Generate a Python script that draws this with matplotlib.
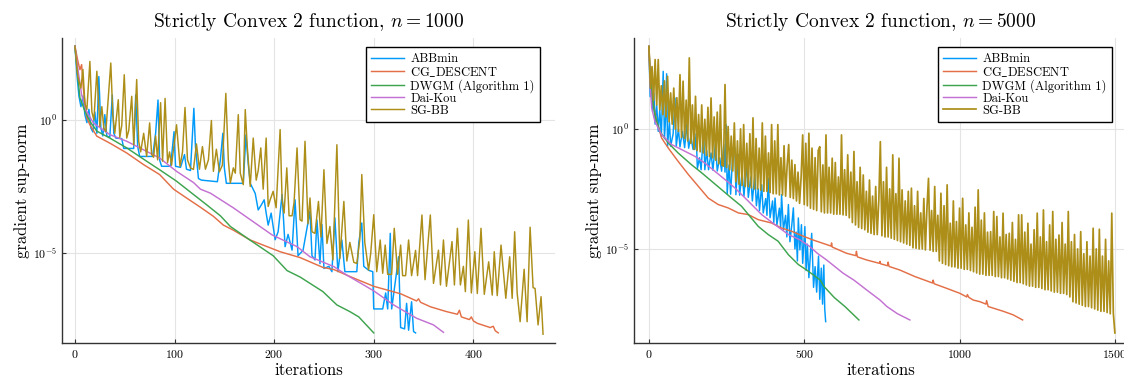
import numpy as np
import matplotlib
matplotlib.use("Agg")
import matplotlib.pyplot as plt
from matplotlib.ticker import FixedLocator, NullLocator

plt.rcParams['font.family'] = ['cmr10', 'DejaVu Serif']
plt.rcParams['mathtext.fontset'] = 'cm'
plt.rcParams['axes.formatter.use_mathtext'] = True

# Plots.jl default palette
c_abb = '#009AFA'
c_cg = '#E36F47'
c_dwgm = '#3EA44E'
c_dk = '#C371D2'
c_sg = '#AC8E18'

labels = ['ABBmin', r'CG$\_$DESCENT', 'DWGM (Algorithm 1)', 'Dai-Kou', 'SG-BB']

# ---------------- n = 1000 (iteration, log10 gradient sup-norm) ----------------
abb_1000 = [(0, 2.77), (2, 1.7), (4, 0.9), (6, 0.5), (8, 0.9), (10, 0.2), (12, -0.1), (14, 0.4),
            (16, -0.3), (18, -0.45), (20, 0.3), (22, -0.5), (24, 1.63), (26, -0.3), (28, -0.6),
            (30, 0.2), (32, -0.6), (35, -0.65), (37.5, 0.94), (39, -0.5), (41, -0.68), (47, -0.7),
            (49, -1.07), (59, -1.07), (61, 0.94), (63, -1.0), (65, -1.37), (78, -1.37), (81, -0.5),
            (83.4, 0.75), (85, -1.5), (87, -1.74), (96, -1.74), (99.5, -0.44), (101, -1.74),
            (106, -1.78), (110, -1.3), (112, -1.85), (116, -1.9), (119.4, 0.44), (121, -1.0),
            (124, -2.2), (127, -2.26), (143, -2.32), (146, -1.5), (148.5, -0.5), (150, -1.8),
            (152, -2.38), (169, -2.38), (171.7, -0.56), (174, -1.65), (176, -2.38), (181, -2.76),
            (184, -3.38), (187, -3.2), (190, -3.0), (192, -3.5), (194, -3.95), (197, -3.5),
            (201, -4.5), (204, -4.2), (208, -2.8), (211, -4.76), (214, -4.3), (218, -4.89),
            (221, -3.0), (224, -5.1), (229, -4.9), (236, -3.43), (238, -5.1), (241, -5.26),
            (243, -3.76), (246, -5.4), (248, -3.93), (250, -5.58), (255, -5.5), (258, -5.7),
            (261, -3.68), (264, -5.7), (268, -4.51), (271, -5.7), (283, -5.7), (285, -4.6),
            (288, -3.87), (290, -5.5), (295, -5.65), (299, -5.7), (300, -7.1), (309, -7.1),
            (312, -6.5), (314, -7.1), (316.6, -4.26), (318, -7.1), (325, -5.14), (327, -7.8),
            (331, -7.85), (333, -6.89), (335, -7.9), (338, -6.83), (340, -7.95), (342, -8.0)]

cg_1000 = [(0, 2.77), (3, 2.2), (5, 1.89), (6.7, 2.08), (8.4, 1.2), (11.7, 0.1), (15, -0.18),
           (22, -0.61), (35, -0.87), (52, -1.24), (69, -1.68), (85, -2.05), (99, -2.6),
           (112, -2.93), (126, -3.28), (139, -3.62), (149, -3.95), (159, -4.14), (176, -4.51),
           (193, -4.76), (206, -4.95), (226, -5.17), (249, -5.54), (260, -5.62), (276, -5.88),
           (300, -6.25), (327, -6.53), (343, -6.8), (345, -6.72), (347, -6.85), (357, -7.02),
           (373, -7.2), (384, -7.3), (386, -7.15), (388, -7.4), (396, -7.5), (398, -7.4),
           (400, -7.55), (404, -7.64), (417, -7.8), (420, -7.75), (422, -7.92), (425, -8.0)]

dwgm_1000 = [(0, 2.77), (1.7, 2.08), (5, 0.83), (10, 0.33), (15, -0.05), (22, -0.42), (35, -0.68),
             (52, -1.05), (72, -1.55), (85, -1.87), (102, -2.3), (119, -2.8), (132, -3.18),
             (146, -3.6), (156, -4.0), (176, -4.52), (199, -5.1), (213, -5.66), (226, -5.9),
             (249, -6.45), (263, -6.95), (276, -7.2), (285, -7.4), (300, -8.0)]

dk_1000 = [(0, 2.77), (3, 1.9), (6.7, 0.95), (11.7, 0.33), (18.4, -0.11), (35, -0.55), (52, -0.8),
           (72, -1.18), (85, -1.43), (102, -1.93), (119, -2.35), (126, -2.6), (136, -2.75),
           (159, -3.3), (198, -4.32), (223, -4.76), (236, -5.14), (260, -5.51), (273, -5.83),
           (300, -6.42), (320, -6.95), (343, -7.45), (360, -7.7), (370, -7.98)]

sg_1000 = [(0, 2.77), (3, 1.6), (6, 1.2), (8, 1.9), (10, 0.6), (12, 0.4), (15, 2.2), (17, 0.3),
           (19, 0.0), (22, 1.83), (25, -0.24), (27, 0.5), (29, -0.3), (31, -0.44), (33, 0.6),
           (36, 2.14), (38, 0.2), (40, -0.5), (43.5, 0.76), (45, -0.65), (47, -0.2), (49.5, 1.7),
           (52, -0.68), (54, -0.4), (57, 0.89), (59, -0.93), (62, 1.52), (64, -0.8), (66, -1.2),
           (69, -0.5), (72, -1.37), (75, -0.11), (77, -1.3), (79, -1.4), (81, -0.6), (83, -1.5),
           (86, 0.65), (88, -1.55), (90.5, 0.81), (93, -1.6), (95, -1.2), (97, -1.7), (102, -0.18),
           (105.5, -1.74), (108, -1.2), (110.5, 0.47), (113, -1.5), (116, -1.8), (119, -1.86),
           (122, -0.9), (125, -1.85), (128, -1.0), (131, -1.85), (134, -1.5), (137, -0.02),
           (139, -1.93), (142, -1.1), (145, -1.95), (148, -1.7), (151.5, 1.0), (154, -1.5),
           (156, -2.37), (159, -1.8), (161, -2.0), (164, 0.2), (166, -2.0), (169, -2.43),
           (171, 0.39), (173, -1.0), (176, -2.5), (179, -0.68), (182, -2.26), (184, -1.9),
           (186.6, -1.05), (189, -2.6), (192, -0.68), (194, -3.25), (196, -3.0), (199, -2.68),
           (202, -3.3), (206, -0.36), (208, -3.0), (210, -3.5), (212.7, -1.8), (215, -3.6),
           (218, -3.6), (220, -3.1), (223, -1.05), (226, -3.75), (228, -3.8), (231, -0.8),
           (234, -3.9), (236, -2.93), (238, -4.2), (241, -4.26), (244.5, -3.06), (247, -4.4),
           (250, -1.87), (253, -4.64), (256, -4.0), (259, -5.26), (263, -0.93), (266, -5.2),
           (270, -3.06), (273, -5.3), (276, -4.6), (280, -5.35), (283, -5.39), (286, -4.5),
           (288, -2.05), (291, -4.6), (294.8, -5.64), (297, -5.0), (300, -3.56), (303, -5.7),
           (306.5, -4.51), (309, -5.76), (311.5, -4.7), (314, -5.8), (318, -5.8), (320.6, -4.07),
           (324, -5.8), (327, -4.7), (329, -5.85), (332, -5.85), (335, -4.51), (338, -5.85),
           (342, -4.9), (344, -5.85), (348.4, -3.57), (351.5, -6.0), (356.8, -3.57), (360, -6.14),
           (365, -4.89), (367, -6.2), (370, -4.51), (373, -6.25), (378.6, -4.57), (381, -6.2),
           (384, -4.07), (387, -6.2), (390, -5.5), (392, -6.45), (395, -3.76), (398, -6.5),
           (401.5, -4.95), (404, -6.52), (407.7, -4.07), (411, -6.55), (415.4, -5.33), (419, -6.58),
           (421, -4.95), (424, -6.6), (427.8, -4.7), (432.6, -6.7), (436.5, -5.14), (439, -6.7),
           (441.5, -4.2), (444, -6.5), (447, -7.58), (451, -5.61), (454, -7.58), (457, -4.03),
           (460, -6.3), (462, -6.33), (465, -7.7), (468, -6.64), (470, -8.05)]

# ---------------- n = 5000 ----------------
abb_5000 = [(0, 3.44), (4, 1.35), (8, 2.0), (12, 0.7), (16, 1.5), (20, 0.2), (25, 1.0), (30, -0.1),
            (35, 0.8), (40, -0.3), (46, 2.4), (50, -0.4), (54, 0.5), (57, 2.3), (60, -0.72),
            (66, 0.3), (70, -0.72), (78, -0.2), (84, 1.29), (88, -0.72), (95, 0.0), (100, -0.75),
            (108, -0.1), (115, -0.78), (122, 0.2), (128, -0.8), (135, -0.3), (142, -0.85),
            (148, -0.85), (152, -0.2), (156, -1.65), (163, -1.2), (168, -1.7), (176, -0.04),
            (180, -1.7), (186, -0.9), (192, -1.7), (200, -1.0), (206, -1.72), (214, -0.6),
            (220, -1.75), (228, -1.2), (234, -1.76), (241, -0.65), (245, -1.8), (249, 0.17),
            (252, -2.7), (258, -1.5), (263, -2.72), (270, -1.0), (277, -0.79), (280, -2.74),
            (288, -1.07), (292, -2.76), (300, -1.8), (306, -2.8), (314, -1.4), (320, -2.85),
            (328, -2.0), (333, -3.0), (341, -1.9), (346, -3.2), (352, -2.5), (356, -3.4),
            (363, -2.32), (368, -3.5), (376, -2.9), (380, -3.6), (384, -2.04), (390, -3.7),
            (398, -3.0), (402, -3.9), (406, -2.88), (412, -4.0), (420, -3.3), (424, -4.1),
            (427, -2.74), (433, -4.2), (440, -3.6), (444, -4.5), (449, -3.15), (454, -4.7),
            (460, -4.0), (465, -3.29), (470, -5.0), (474, -4.3), (478, -5.5), (481, -3.71),
            (486, -5.04), (491, -3.99), (495, -5.6), (502, -4.07), (506, -5.9), (510, -4.8),
            (515, -6.2), (520, -5.2), (524, -4.35), (530, -6.6), (535, -5.74), (540, -6.8),
            (546, -5.3), (550, -7.1), (555, -5.8), (559, -7.3), (563, -5.67), (566, -7.5),
            (569, -8.03)]

cg_5000 = [(0, 3.44), (5, 2.2), (14, 1.01), (25, 0.32), (41, -0.38), (62, -0.79), (94, -1.35),
           (127, -1.9), (159, -2.39), (191, -2.88), (223, -3.15), (255, -3.29), (288, -3.5),
           (320, -3.57), (352, -3.78), (395, -3.92), (427, -4.13), (459, -4.26), (495, -4.46),
           (529, -4.63), (586, -4.88), (588, -4.75), (590, -4.92), (636, -5.18), (666, -5.28),
           (668, -5.1), (671, -5.33), (701, -5.46), (742, -5.6), (744, -5.52), (746, -5.62),
           (768, -5.7), (770, -5.55), (773, -5.73), (808, -5.88), (856, -6.15), (913, -6.42),
           (915, -6.3), (918, -6.45), (958, -6.64), (1001, -6.85), (1023, -7.0), (1025, -6.9),
           (1030, -7.02), (1044, -7.13), (1066, -7.2), (1085, -7.3), (1087, -7.15), (1092, -7.4),
           (1141, -7.6), (1173, -7.75), (1203, -7.96)]

dwgm_5000 = [(0, 3.44), (5, 2.0), (11, 1.29), (19, 0.6), (35, -0.1), (62, -0.58), (94, -1.0),
             (137, -1.49), (170, -1.83), (202, -2.18), (234, -2.53), (266, -2.88), (298, -3.22),
             (325, -3.64), (352, -4.06), (384, -4.4), (416, -4.68), (449, -5.24), (481, -5.65),
             (508, -5.88), (551, -6.29), (564, -6.57), (597, -7.03), (631, -7.4), (676, -7.96)]

dk_5000 = [(0, 3.44), (4, 1.8), (9, 0.88), (19, 0.32), (41, -0.24), (73, -0.65), (116, -0.93),
           (148, -1.14), (180, -1.42), (212, -1.76), (245, -2.11), (277, -2.46), (320, -3.01),
           (363, -3.57), (406, -3.99), (449, -4.4), (486, -4.62), (518, -4.9), (542, -5.18),
           (572, -5.46), (600, -5.75), (625, -6.01), (660, -6.3), (701, -6.71), (744, -7.13),
           (766, -7.4), (800, -7.7), (840, -7.96)]

# SG-BB, n = 5000: every 5th iteration
sg_5000_iter = np.arange(0, 1501, 5)
sg_5000 = [
    3.44, 1.7, 2.6, 1.2, 2.89, 1.0, 2.89, 0.8, 1.8, 0.6,
    2.0, 0.5, 2.19, 0.3, 1.5, 0.2, 1.7, 0.0, 1.3, -0.1,
    2.26, -0.35, 1.99, -0.4, 1.2, -0.5, 2.96, -0.6, 1.0, -0.85,
    1.36, -0.9, 0.6, -0.95, 1.0, -1.0, 0.4, -1.1, 0.9, -1.15,
    1.29, -1.2, 0.5, -1.3, 0.7, -1.45, 1.0, -1.5, -1.55, 1.85,
    -1.6, 0.1, -1.7, -0.3, -1.75, 0.25, -2.2, -0.5, -2.3, 0.0,
    -2.35, 0.18, -2.4, -0.6, -2.4, -0.2, -2.45, 0.46, -2.5, -0.4,
    -2.5, -0.8, -2.55, 0.25, -2.6, -0.3, -2.6, -1.0, -2.65, 0.18,
    -2.7, -0.5, -2.7, 0.18, -2.75, -1.2, -2.75, -0.7, -2.8, -1.5,
    -0.65, -2.85, -1.3, -2.9, -1.49, -3.0, -1.8, -3.1, -2.0, -0.25,
    -3.15, -0.6, -3.2, -0.18, -3.3, -0.8, -3.35, -1.2, -3.4, -0.9,
    -0.74, -3.45, -1.5, -3.5, -0.25, -3.5, -1.6, -3.5, -1.22, -3.55,
    -1.4, -3.55, -2.0, -3.55, -0.25, -3.58, -1.7, -3.6, -1.08, -3.7,
    -1.8, -3.9, -0.94, -4.0, -2.2, -4.1, -1.6, -4.15, -1.92, -4.2,
    -2.6, -4.3, -2.13, -4.35, -2.8, -4.4, -2.4, -4.4, -3.0, -0.53,
    -4.45, -2.2, -4.5, -1.6, -4.5, -2.5, -4.55, -1.08, -4.6, -2.7,
    -4.65, -1.22, -4.7, -2.54, -4.75, -3.0, -4.8, -2.6, -4.85, -2.47,
    -4.95, -3.2, -4.97, -2.6, -5.0, -3.5, -5.0, -2.9, -5.04, -3.3,
    -2.06, -5.05, -3.4, -5.1, -2.4, -5.1, -3.6, -5.5, -2.68, -5.6,
    -3.2, -5.65, -2.33, -5.7, -3.93, -5.74, -3.0, -5.75, -3.86, -5.8,
    -3.3, -5.8, -2.89, -5.85, -4.0, -5.85, -3.5, -5.9, -4.1, -5.95,
    -3.26, -6.0, -2.54, -6.05, -3.8, -6.05, -3.5, -6.1, -4.3, -6.1,
    -4.28, -6.1, -3.44, -6.15, -3.65, -6.15, -4.5, -6.2, -3.51, -6.2,
    -4.4, -6.25, -4.35, -6.3, -3.9, -6.35, -4.6, -6.4, -3.58, -6.4,
    -3.58, -6.45, -4.3, -6.5, -3.93, -6.55, -4.8, -6.55, -4.2, -6.6,
    -3.51, -6.6, -4.5, -6.65, -3.375, -6.7, -4.7, -6.7, -4.0, -6.75,
    -3.44, -6.8, -4.6, -6.8, -4.42, -6.85, -3.9, -6.85, -4.8, -6.9,
    -3.44, -7.0, -4.7, -7.2, -4.4, -7.25, -5.0, -7.3, -4.28, -7.35,
    -5.2, -7.4, -4.7, -7.4, -5.3, -7.45, -4.14, -7.5, -5.0, -7.55,
    -4.18, -7.6, -5.3, -7.6, -4.6, -7.65, -5.5, -7.7, -3.51, -7.68,
    -8.5]


def pairs(p):
    a = np.array(p, dtype=float)
    return a[:, 0], 10.0 ** a[:, 1]


fig = plt.figure(figsize=(11.24, 3.79), dpi=100)
# both panels are 493 px wide; the right one runs a little past the figure edge
ax1 = fig.add_axes([62 / 1124, 1 - 343 / 379, 493 / 1124, 305 / 379])
ax2 = fig.add_axes([634 / 1124, 1 - 343 / 379, 493 / 1124, 305 / 379])

panels = [
    (ax1, 1000, [abb_1000, cg_1000, dwgm_1000, dk_1000, pairs(sg_1000)], (-13, 482), (3.08, -8.38), [0, 100, 200, 300, 400]),
    (ax2, 5000, [abb_5000, cg_5000, dwgm_5000, dk_5000, (sg_5000_iter, 10.0 ** np.array(sg_5000))], (-48, 1539), (3.79, -8.92), [0, 500, 1000, 1500]),
]

for ax, n, series, xl, yl, xt in panels:
    cols = [c_abb, c_cg, c_dwgm, c_dk, c_sg]
    for k, s in enumerate(series):
        if isinstance(s, list):
            x, y = pairs(s)
        else:
            x, y = s
        lw = 1.25 if (k == 4 and n == 5000) else 1.05
        ax.plot(x, y, color=cols[k], lw=lw, label=labels[k])
    ax.set_yscale('log')
    ax.set_xlim(*xl)
    ax.set_ylim(10 ** yl[1], 10 ** yl[0])
    ax.set_xticks(xt)
    ax.yaxis.set_major_locator(FixedLocator([1e-5, 1e0]))
    ax.yaxis.set_minor_locator(NullLocator())
    ax.grid(True, color='#e4e4e4', lw=0.8)
    ax.set_axisbelow(True)
    for sp in ['top', 'right']:
        ax.spines[sp].set_visible(False)
    for sp in ['left', 'bottom']:
        ax.spines[sp].set_color('#333333')
        ax.spines[sp].set_linewidth(1.0)
    ax.tick_params(direction='in', length=3, width=0.8, labelsize=8.5, color='#333333')
    ax.set_title(r'Strictly Convex 2 function, $n = %d$' % n, fontsize=14, pad=8)
    ax.set_xlabel('iterations', fontsize=12, labelpad=2)
    ax.set_ylabel('gradient sup-norm', fontsize=12, labelpad=2)
    leg = ax.legend(loc='upper right', bbox_to_anchor=(0.97, 0.97), fontsize=9, frameon=True,
                    fancybox=False, edgecolor='black', framealpha=1, handlelength=2.6,
                    borderpad=0.45, labelspacing=0.0, handletextpad=0.5, borderaxespad=0.0)
    leg.get_frame().set_linewidth(1.0)

fig.savefig('out.png', dpi=100)
